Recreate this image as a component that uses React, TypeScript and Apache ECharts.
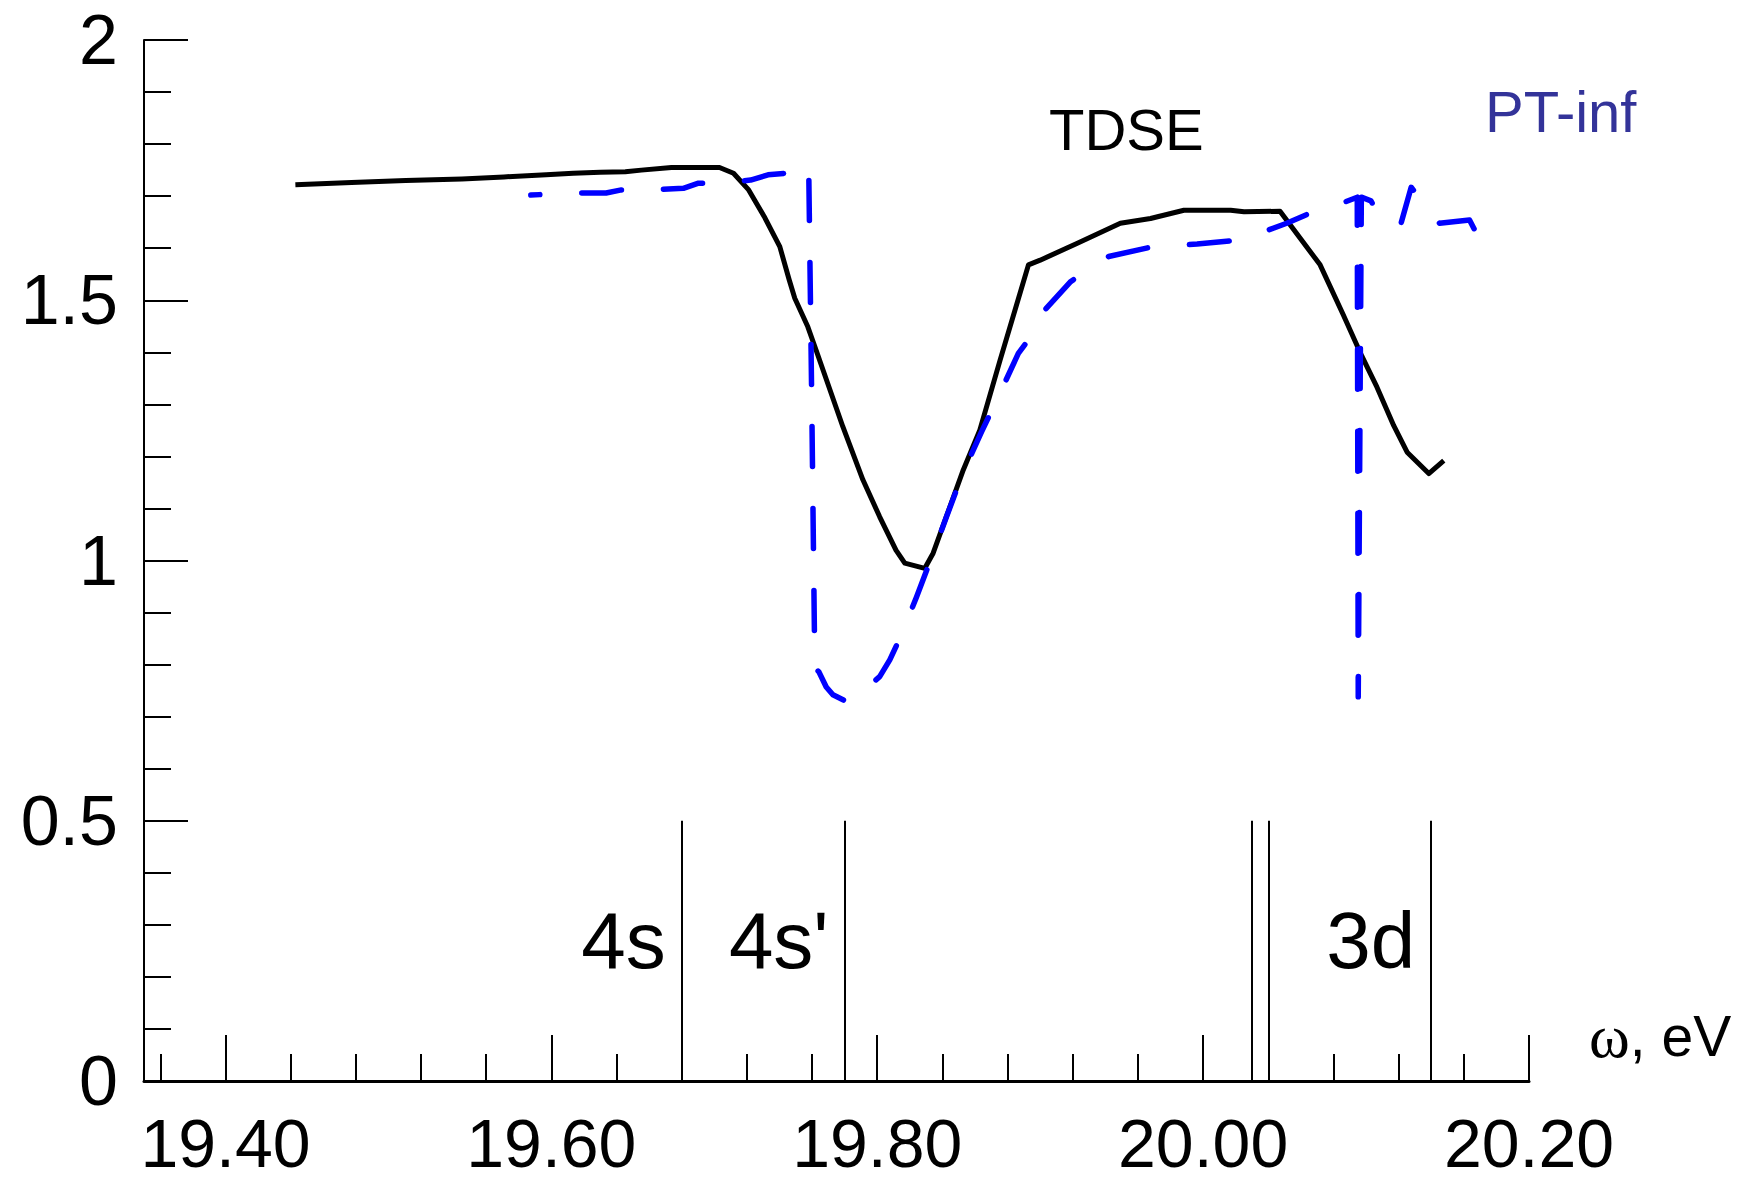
import { useEffect, useRef } from "react";
import * as echarts from "echarts";

// Photon energy range (eV) and response range
const X_MIN = 19.35;
const X_MAX = 20.2;
const Y_MIN = 0;
const Y_MAX = 2;
const Y_STEP = 0.5;

// Axis tick positions on the energy axis
const X_MAJOR_TICKS = [19.4, 19.6, 19.8, 20.0, 20.2];
const X_MINOR_TICKS = [
  19.36, 19.44, 19.48, 19.52, 19.56, 19.64, 19.68, 19.72, 19.76, 19.84, 19.88,
  19.92, 19.96, 20.04, 20.08, 20.12, 20.16,
];

// TDSE result
const TDSE_EV = [
  19.4429, 19.4774, 19.5106, 19.5451, 19.5709, 19.5968, 19.6134, 19.63, 19.6454,
  19.6552, 19.6737, 19.7032, 19.7118, 19.7211, 19.7306, 19.7402, 19.746, 19.7494,
  19.7574, 19.7625, 19.7789, 19.7912, 19.8015, 19.8115, 19.8169, 19.8292, 19.8343,
  19.8528, 19.863, 19.8754, 19.8928, 19.9, 19.9225, 19.9492, 19.9677, 19.9882,
  20.0169, 20.0251, 20.0472, 20.0718, 20.086, 20.0975, 20.1067, 20.117, 20.1252,
  20.1385, 20.1477,
];
const TDSE_VAL = [
  1.722, 1.726, 1.73, 1.733, 1.737, 1.741, 1.744, 1.746, 1.747, 1.75, 1.755,
  1.755, 1.744, 1.712, 1.661, 1.603, 1.539, 1.504, 1.449, 1.404, 1.257, 1.155,
  1.084, 1.02, 0.995, 0.985, 1.014, 1.174, 1.251, 1.385, 1.568, 1.577, 1.609,
  1.648, 1.657, 1.673, 1.673, 1.67, 1.671, 1.568, 1.472, 1.392, 1.333, 1.259,
  1.208, 1.167, 1.192,
];

// Perturbation theory (PT-inf) result
const PTINF_EV = [
  19.5874, 19.6111, 19.6336, 19.643, 19.6573, 19.681, 19.6903, 19.7046, 19.7223,
  19.733, 19.7437, 19.7448, 19.758, 19.7598, 19.7617, 19.7642, 19.7687, 19.7728,
  19.783, 19.8015, 19.8077, 19.8148, 19.824, 19.8343, 19.8425, 19.8528, 19.864,
  19.8763, 19.8866, 19.894, 19.901, 19.9184, 19.9286, 19.942, 19.9677, 19.9963,
  20.0237, 20.0513, 20.0712, 20.0856, 20.0946, 20.0952, 20.0971, 20.103, 20.1102,
  20.1153, 20.1215, 20.1277, 20.1451, 20.1635, 20.1677, 20.1728, 20.182,
];
const PTINF_VAL = [
  1.702, 1.706, 1.706, 1.712, 1.712, 1.715, 1.725, 1.725, 1.731, 1.741, 1.744,
  1.763, 1.741, 1.308, 0.794, 0.786, 0.757, 0.742, 0.726, 0.777, 0.809, 0.857,
  0.929, 1.014, 1.084, 1.17, 1.247, 1.328, 1.398, 1.429, 1.475, 1.535, 1.558,
  1.584, 1.602, 1.608, 1.616, 1.648, 1.675, 1.687, 1.698, 0.738, 1.698, 1.691,
  1.651, 1.656, 1.648, 1.717, 1.648, 1.654, 1.629, 1.635, 1.621,
];

// Atomic levels marked along the energy axis
const LEVEL_EV = [19.68, 19.78, 20.03, 20.04, 20.14];
const LEVEL_TOP = 0.5;
const LEVEL_NAMES = ["4s", "4s'", "3d"];
const LEVEL_NAME_EV = [19.68, 19.78, 20.14];
const LEVEL_NAME_VAL = 0.27;

const SANS = "'Liberation Sans', Arial, sans-serif";
const PT_DASH = [40, 42];

function zip(xs: number[], ys: number[]) {
  return xs.map((x, i) => [x, ys[i]]);
}

export default function App() {
  const ref = useRef<HTMLDivElement>(null);

  useEffect(() => {
    if (!ref.current) return;
    const chart = echarts.init(ref.current, null, { renderer: "svg" });

    const black = { color: "#000", width: 2 };

    chart.setOption({
      animation: false,
      backgroundColor: "#fff",
      grid: { left: 144, right: 215, top: 40, bottom: 99, containLabel: false },
      xAxis: [
        {
          type: "value",
          min: X_MIN,
          max: X_MAX,
          position: "bottom",
          axisLine: { show: true, lineStyle: { color: "#000", width: 3 } },
          axisTick: {
            show: true,
            inside: true,
            length: 46,
            customValues: X_MAJOR_TICKS,
            lineStyle: black,
          },
          axisLabel: {
            show: true,
            customValues: X_MAJOR_TICKS,
            formatter: (v: number) => v.toFixed(2),
            fontFamily: SANS,
            fontSize: 68,
            color: "#000",
            margin: 28,
            hideOverlap: false,
          },
          splitLine: { show: false },
          name: "{w|ω}{t|, eV}",
          nameLocation: "end",
          nameGap: 60,
          nameTextStyle: {
            align: "left",
            verticalAlign: "bottom",
            padding: [0, 0, 14, 0],
            rich: {
              w: { fontFamily: "'Liberation Serif', serif", fontSize: 62, color: "#000" },
              t: { fontFamily: SANS, fontSize: 57, color: "#000" },
            },
          },
        },
        {
          type: "value",
          min: X_MIN,
          max: X_MAX,
          position: "bottom",
          axisLine: { show: false },
          axisTick: {
            show: true,
            inside: true,
            length: 27,
            customValues: X_MINOR_TICKS,
            lineStyle: black,
          },
          axisLabel: { show: false },
          splitLine: { show: false },
        },
      ],
      yAxis: {
        type: "value",
        min: Y_MIN,
        max: Y_MAX,
        interval: Y_STEP,
        axisLine: { show: true, lineStyle: { color: "#000", width: 2 } },
        axisTick: { show: true, inside: true, length: 44, lineStyle: black },
        minorTick: { show: true, splitNumber: 5, length: 27, lineStyle: black },
        axisLabel: {
          fontFamily: SANS,
          fontSize: 70,
          color: "#000",
          margin: 26,
          showMinLabel: true,
          showMaxLabel: true,
        },
        splitLine: { show: false },
      },
      graphic: [
        {
          type: "text",
          x: 1049,
          y: 129,
          style: {
            text: "TDSE",
            fill: "#000",
            font: `58px ${SANS}`,
            align: "left",
            verticalAlign: "middle",
          },
        },
        {
          type: "text",
          x: 1485,
          y: 111,
          style: {
            text: "PT-inf",
            fill: "#333399",
            font: `58px ${SANS}`,
            align: "left",
            verticalAlign: "middle",
          },
        },
      ],
      series: [
        {
          id: "levels",
          name: "levels",
          type: "scatter",
          xAxisIndex: 0,
          symbolSize: 0,
          itemStyle: { opacity: 1 },
          data: LEVEL_NAME_EV.map((e, i) => ({ value: [e, LEVEL_NAME_VAL], name: LEVEL_NAMES[i] })),
          label: {
            show: true,
            position: "left",
            distance: 16,
            formatter: (p: any) => p.name,
            fontFamily: SANS,
            fontSize: 80,
            color: "#000",
            opacity: 1,
          },
          markLine: {
            silent: true,
            symbol: "none",
            label: { show: false },
            lineStyle: { color: "#000", width: 2, type: "solid", opacity: 1 },
            data: LEVEL_EV.map((e) => [{ coord: [e, 0] }, { coord: [e, LEVEL_TOP] }]),
          },
          z: 1,
        },
        {
          id: "tdse",
          name: "TDSE",
          type: "line",
          xAxisIndex: 0,
          data: zip(TDSE_EV, TDSE_VAL),
          showSymbol: false,
          symbol: "none",
          lineStyle: { color: "#000", width: 5, join: "round" },
          z: 2,
        },
        {
          id: "ptinf",
          name: "PT-inf",
          type: "line",
          xAxisIndex: 0,
          data: zip(PTINF_EV, PTINF_VAL),
          showSymbol: false,
          symbol: "none",
          lineStyle: {
            color: "#0000ff",
            width: 5.5,
            type: PT_DASH,
            cap: "round",
            join: "round",
          },
          z: 3,
        },
      ],
    });

    // The 3d resonance dips straight down and back up along the same column;
    // shift the dash phase so the dash pattern is symmetric about the turning point
    // and the descending and ascending dashes overlap.
    let turn = 0;
    PTINF_VAL.forEach((v, i) => {
      if (PTINF_EV[i] > 20 && (turn === 0 || v < PTINF_VAL[turn])) turn = i;
    });
    const px = PTINF_EV.map((e, i) =>
      chart.convertToPixel({ xAxisIndex: 0, yAxisIndex: 0 }, [e, PTINF_VAL[i]]) as number[]
    );
    let len = 0;
    for (let i = 1; i <= turn; i++) {
      len += Math.hypot(px[i][0] - px[i - 1][0], px[i][1] - px[i - 1][1]);
    }
    const period = PT_DASH[0] + PT_DASH[1];
    const dashOffset = (((PT_DASH[0] / 2 - len) % period) + period) % period;
    chart.setOption({ series: [{ id: "ptinf", lineStyle: { dashOffset } }] });

    return () => chart.dispose();
  }, []);

  return (
    <div
      ref={ref}
      style={{ position: "fixed", left: 0, top: 0, width: 1744, height: 1180, background: "#fff" }}
    />
  );
}
